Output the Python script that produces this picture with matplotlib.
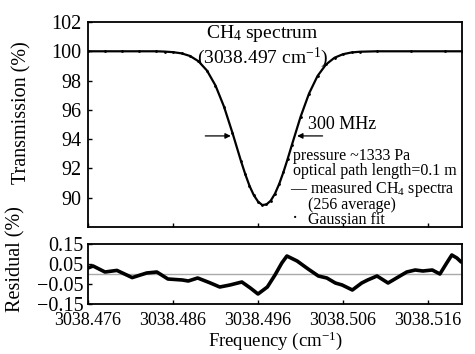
import matplotlib
matplotlib.use("Agg")
import matplotlib.pyplot as plt

plt.rcParams['font.family'] = ['Liberation Serif', 'DejaVu Serif']
plt.rcParams['mathtext.fontset'] = 'custom'
plt.rcParams['mathtext.rm'] = 'Liberation Serif'
plt.rcParams['mathtext.it'] = 'Liberation Serif:italic'
plt.rcParams['mathtext.bf'] = 'Liberation Serif:bold'

# ---------------- data ----------------
freq = [3038.476, 3038.478, 3038.480, 3038.482, 3038.484, 3038.485, 3038.486,
        3038.487, 3038.488, 3038.489, 3038.490, 3038.491, 3038.492, 3038.493,
        3038.494, 3038.4945, 3038.495, 3038.4955, 3038.496, 3038.4965, 3038.497,
        3038.4975, 3038.498, 3038.4985, 3038.499, 3038.4995, 3038.500, 3038.501,
        3038.502, 3038.503, 3038.504, 3038.505, 3038.506, 3038.507, 3038.508,
        3038.510, 3038.514, 3038.518, 3038.520]
transmission = [100.00, 100.00, 100.00, 100.00, 100.00, 99.98, 99.94,
                99.86, 99.68, 99.32, 98.68, 97.66, 96.22, 94.42,
                92.50, 91.61, 90.81, 90.18, 89.74, 89.50, 89.54,
                89.80, 90.28, 90.95, 91.76, 92.67, 93.63, 95.51,
                97.11, 98.31, 99.10, 99.56, 99.80, 99.92, 99.97,
                100.00, 100.00, 100.00, 100.00]
fit_transmission = transmission

res_freq = [3038.4760, 3038.4766, 3038.4780, 3038.4794, 3038.4812, 3038.4829,
            3038.4841, 3038.4854, 3038.4871, 3038.4878, 3038.4889, 3038.4904,
            3038.4915, 3038.4927, 3038.4941, 3038.4951, 3038.4960, 3038.4971,
            3038.4980, 3038.4988, 3038.4994, 3038.5006, 3038.5019, 3038.5031,
            3038.5041, 3038.5051, 3038.5059, 3038.5071, 3038.5082, 3038.5089,
            3038.5100, 3038.5113, 3038.5127, 3038.5135, 3038.5145, 3038.5154,
            3038.5165, 3038.5174, 3038.5182, 3038.5188, 3038.5194, 3038.5199]
residual = [0.030, 0.040, 0.010, 0.018, -0.018, 0.005,
            0.010, -0.025, -0.030, -0.035, -0.020, -0.045,
            -0.065, -0.055, -0.040, -0.070, -0.100, -0.065,
            -0.005, 0.055, 0.090, 0.065, 0.025, -0.010,
            -0.020, -0.045, -0.055, -0.080, -0.045, -0.030,
            -0.010, -0.045, -0.010, 0.010, 0.020, 0.015,
            0.020, 0.000, 0.055, 0.095, 0.080, 0.060]

xticks = [3038.476, 3038.486, 3038.496, 3038.506, 3038.516]
xticklabels = ['3038.476', '3038.486', '3038.496', '3038.506', '3038.516']
yticks_main = [90, 92, 94, 96, 98, 100, 102]
yticks_res = [-0.15, -0.05, 0.05, 0.15]
yticklabels_res = ['\u22120.15', '\u22120.05', '0.05', '0.15']

# ---------------- figure ----------------
W, H = 475, 354
fig = plt.figure(figsize=(W / 100, H / 100), dpi=100)

def fig_rect(l, t, r, b):
    return [l / W, 1 - b / H, (r - l) / W, (b - t) / H]

ax = fig.add_axes(fig_rect(88, 22, 462, 227))
ax2 = fig.add_axes(fig_rect(88, 244, 462, 304))

TF = 14.5
for a in (ax, ax2):
    for s in a.spines.values():
        s.set_linewidth(1.3)
    a.tick_params(direction='in', length=3, width=1, labelsize=TF, pad=5,
                  top=False, right=False)
    a.set_xlim(3038.476, 3038.520)
    a.set_xticks(xticks)

# main panel
ax.plot(freq, transmission, color='black', lw=1.6, zorder=3)
ax.plot(freq, fit_transmission, ls='none', marker='o', ms=1.0, color='black', zorder=4)
ax.set_ylim(88, 102)
ax.set_yticks(yticks_main)
ax.set_xticklabels([])
ax.set_ylabel('Transmission (%)', fontsize=TF)
ax.yaxis.set_label_coords(-0.152, 0.56)

ax.text(3038.4965, 101.22, 'CH$_4$ spectrum', fontsize=14, ha='center', va='center')
ax.text(3038.4965, 99.52, '(3038.497 cm$^{-1}$)', fontsize=14, ha='center', va='center')
ax.text(3038.5019, 94.97, '300 MHz', fontsize=13, ha='left', va='center')
ax.annotate('', xy=(3038.4928, 94.22), xytext=(3038.4898, 94.22),
            arrowprops=dict(arrowstyle='-|>', color='black', lw=0.9, mutation_scale=8,
                            shrinkA=0, shrinkB=0))
ax.annotate('', xy=(3038.5006, 94.22), xytext=(3038.5036, 94.22),
            arrowprops=dict(arrowstyle='-|>', color='black', lw=0.9, mutation_scale=8,
                            shrinkA=0, shrinkB=0))
LF = 11.5
ax.text(3038.5001, 92.84, 'pressure ~1333 Pa', fontsize=LF, ha='left', va='center')
ax.text(3038.5001, 91.82, 'optical path length=0.1 m', fontsize=LF, ha='left', va='center')
# legend block
ax.text(3038.49976, 90.62, '\u2014 measured CH$_4$ spectra', fontsize=LF, ha='left', va='center')
ax.text(3038.50188, 89.50, '(256 average)', fontsize=LF, ha='left', va='center')
ax.text(3038.50035, 88.55, '\u00b7', fontsize=LF + 2, ha='center', va='center')
ax.text(3038.50188, 88.50, 'Gaussian fit', fontsize=LF, ha='left', va='center')

# residual panel
ax2.axhline(0, color='#aaaaaa', lw=1.0, zorder=1)
ax2.plot(res_freq, residual, color='black', lw=2.6, zorder=3,
         solid_joinstyle='round', solid_capstyle='round')
ax2.set_ylim(-0.15, 0.15)
ax2.set_yticks(yticks_res)
ax2.set_yticklabels(yticklabels_res, va='center_baseline')
ax2.set_xticklabels(xticklabels)
ax2.tick_params(axis='x', pad=6, labelsize=13)
ax2.tick_params(axis='y', pad=3)
ax2.set_ylabel('Residual (%)', fontsize=TF)
ax2.yaxis.set_label_coords(-0.168, 0.75)
ax2.set_xlabel('Frequency (cm$^{-1}$)', fontsize=13.5, labelpad=0)

fig.savefig('out.png', dpi=100)
